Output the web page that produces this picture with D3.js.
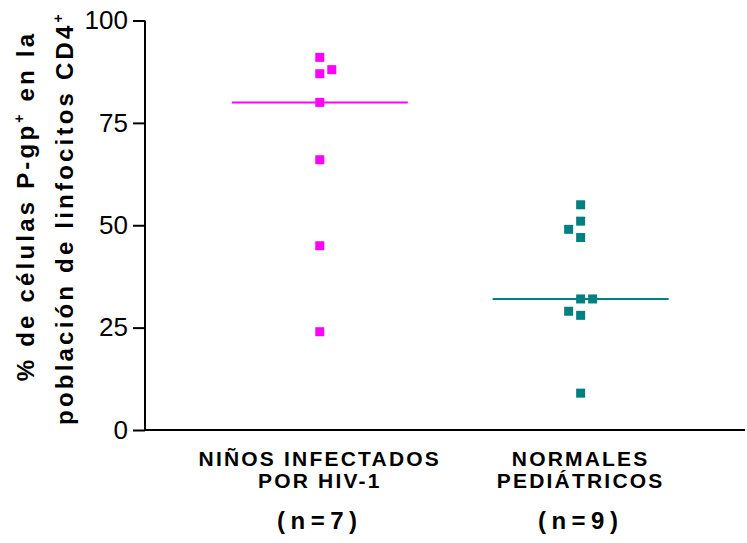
<!DOCTYPE html>
<html>
<head>
<meta charset="utf-8">
<script src="https://cdn.jsdelivr.net/npm/d3@7"></script>
<style>
  body { margin: 0; background: #fff; }
  text { font-family: "Liberation Sans", Arial, sans-serif; }
</style>
</head>
<body>
<svg id="chart" width="747" height="543"></svg>
<script>
// data
const groups = ['NIÑOS INFECTADOS|POR HIV-1', 'NORMALES|PEDIÁTRICOS']
const groupN = ['(n=7)', '(n=9)']
const groupColors = ['#ff00ff', '#008080']
const hivValues = [91, 87, 88, 80, 66, 45, 24]
const hivSlot = [0, 0, 1, 0, 0, 0, 0]        // side-by-side slot for overlapping points
const normalValues = [55, 51, 49, 47, 32, 32, 29, 28, 9]
const normalSlot = [0, 0, -1, 0, 0, 1, -1, 0, 0]
const yTicks = [0, 25, 50, 75, 100]

const width = 747, height = 543
const svg = d3.select('#chart')

const x = d3.scaleLinear().domain([0.33, 2.63]).range([145, 745])
const y = d3.scaleLinear().domain([0, 100]).range([430, 20.5])

const series = [
  {values: hivValues, slot: hivSlot},
  {values: normalValues, slot: normalSlot}
]

// y axis
const yAxis = svg.append('g')
  .attr('transform', 'translate(' + x.range()[0] + ',0)')
  .call(d3.axisLeft(y).tickValues(yTicks).tickSize(12).tickPadding(5).tickFormat(d3.format('d')))
yAxis.selectAll('path, line').attr('stroke', '#000').attr('stroke-width', 2)
yAxis.select('.domain').attr('d', 'M0,' + y(100) + 'V' + y(0))
yAxis.selectAll('text').attr('font-size', 26).attr('fill', '#000')

// x axis (just the baseline)
svg.append('line')
  .attr('x1', x.range()[0]).attr('x2', x.range()[1])
  .attr('y1', y(0)).attr('y2', y(0))
  .attr('stroke', '#000').attr('stroke-width', 2)

// points and medians
const slotW = 12, sq = 9
series.forEach((s, i) => {
  const cx = x(i + 1)
  const pts = s.values.map((v, j) => ({v: v, slot: s.slot[j]}))
  svg.append('g').selectAll('rect')
    .data(pts)
    .enter()
    .append('rect')
    .attr('x', d => cx + d.slot * slotW - sq / 2)
    .attr('y', d => y(d.v) - sq / 2)
    .attr('width', sq)
    .attr('height', sq)
    .attr('fill', groupColors[i])

  const med = d3.median(s.values)
  svg.append('line')
    .attr('x1', cx - 88).attr('x2', cx + 88)
    .attr('y1', y(med)).attr('y2', y(med))
    .attr('stroke', groupColors[i]).attr('stroke-width', 2)
})

// category labels
groups.forEach((g, i) => {
  const cx = x(i + 1)
  const lines = g.split('|')
  lines.forEach((ln, k) => {
    svg.append('text')
      .attr('x', cx).attr('y', 466 + k * 22)
      .attr('text-anchor', 'middle')
      .attr('font-size', 21).attr('font-weight', 'bold')
      .attr('letter-spacing', 2.2)
      .text(ln)
  })
  svg.append('text')
    .attr('x', cx).attr('y', 529)
    .attr('text-anchor', 'middle')
    .attr('font-size', 24).attr('font-weight', 'bold')
    .attr('letter-spacing', 5.5)
    .text(groupN[i])
})

// y axis title, two lines
const title = [
  ['% de células P-gp', '+', ' en la'],
  ['población de linfocitos CD4', '+', '']
]
const titleX = [34, 73]
const titleY = [206, 218]
title.forEach((parts, k) => {
  const t = svg.append('text')
    .attr('transform', 'translate(' + titleX[k] + ',' + titleY[k] + ') rotate(-90)')
    .attr('text-anchor', 'middle')
    .attr('font-size', 24).attr('font-weight', 'bold')
    .attr('letter-spacing', 3.2)
  t.append('tspan').text(parts[0])
  t.append('tspan').attr('font-size', 14).attr('dy', -10).text(parts[1])
  if (parts[2]) t.append('tspan').attr('dy', 10).text(parts[2])
})
</script>
</body>
</html>
